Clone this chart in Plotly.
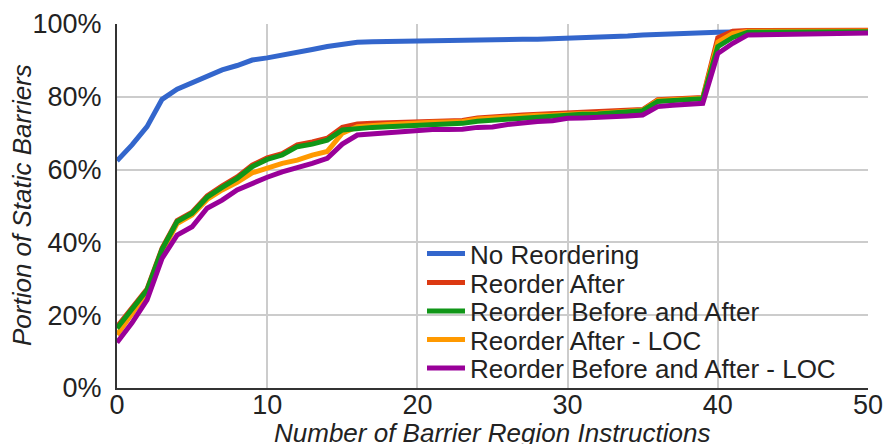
import plotly.graph_objects as go

# Number of barrier region instructions (x axis)
instructions = list(range(0, 51))

# Portion of static barriers (%) for each reordering strategy
no_reordering = [62.4, 66.8, 71.8, 79.3, 82.1, 83.9, 85.5, 87.4, 88.6, 90.1,
                 90.7, 91.4, 92.0, 93.0, 93.8, 94.5, 95.0, 95.1, 95.2, 95.3,
                 95.4, 95.5, 95.5, 95.6, 95.6, 95.7, 95.7, 95.8, 95.8, 95.9,
                 96.0, 96.1, 96.3, 96.5, 96.7, 97.0, 97.2, 97.4, 97.5, 97.6,
                 97.7, 97.8, 97.8, 97.8, 97.9, 97.9, 97.9, 97.9, 98.0, 98.0,
                 98.0]
reorder_after = [16.8, 22.2, 27.2, 38.4, 46.0, 48.3, 52.8, 55.5, 58.0, 61.2,
                 63.2, 64.4, 66.8, 67.6, 68.6, 71.6, 72.5, 72.7, 72.8, 73.0,
                 73.3, 73.4, 73.4, 73.5, 74.2, 74.6, 74.7, 75.0, 75.2, 75.3,
                 75.5, 75.6, 75.7, 75.9, 76.1, 76.5, 79.2, 79.5, 79.7, 79.8,
                 96.2, 98.0, 98.2, 98.2, 98.2, 98.2, 98.2, 98.3, 98.3, 98.3,
                 98.3]
reorder_before_after = [16.4, 21.9, 26.9, 38.1, 45.7, 48.0, 52.4, 55.1, 57.6, 60.8,
                        62.8, 64.0, 66.3, 67.0, 68.1, 70.9, 71.4, 71.6, 71.8, 72.0,
                        72.3, 72.4, 72.5, 72.7, 73.3, 73.6, 73.8, 74.1, 74.4, 74.7,
                        75.1, 75.2, 75.3, 75.5, 75.7, 76.2, 78.7, 79.0, 79.3, 79.5,
                        93.8, 96.3, 97.7, 97.7, 97.8, 97.8, 97.8, 97.9, 97.9, 97.9,
                        97.9]
reorder_after_loc = [14.6, 20.6, 26.2, 37.4, 45.2, 47.5, 51.8, 54.4, 56.5, 59.1,
                     60.4, 61.7, 62.6, 64.0, 65.0, 70.0, 71.8, 72.2, 72.4, 72.6,
                     72.9, 73.0, 73.1, 73.2, 73.9, 74.2, 74.4, 74.6, 74.9, 75.0,
                     75.3, 75.4, 75.5, 75.7, 75.9, 76.3, 79.0, 79.3, 79.5, 79.6,
                     95.0, 97.4, 98.0, 98.0, 98.0, 98.0, 98.1, 98.1, 98.1, 98.1,
                     98.1]
reorder_before_after_loc = [12.5, 17.9, 24.2, 35.6, 42.0, 44.3, 49.4, 51.6, 54.4, 56.3,
                            57.9, 59.4, 60.4, 61.7, 63.1, 67.0, 69.5, 69.8, 70.1, 70.5,
                            70.9, 71.0, 71.0, 71.1, 71.6, 71.7, 72.4, 72.9, 73.2, 73.4,
                            74.1, 74.2, 74.3, 74.5, 74.7, 75.0, 77.3, 77.7, 78.0, 78.2,
                            91.9, 94.7, 97.0, 97.0, 97.1, 97.1, 97.2, 97.3, 97.4, 97.5,
                            97.5]

x_ticks = [0, 10, 20, 30, 40, 50]
y_ticks = [0, 20, 40, 60, 80, 100]

FONT = "Liberation Sans, Arial, sans-serif"
TEXT = "#222222"

# (name, values, color, legend slot) in drawing order
series = [
    ("No Reordering", no_reordering, "#3366CC", 0),
    ("Reorder After", reorder_after, "#DC3912", 1),
    ("Reorder After - LOC", reorder_after_loc, "#FF9900", 3),
    ("Reorder Before and After", reorder_before_after, "#109618", 2),
    ("Reorder Before and After - LOC", reorder_before_after_loc, "#990099", 4),
]

W, H = 886, 444
ML, MR, MT, MB = 117, 18, 24, 56
PW, PH = W - ML - MR, H - MT - MB

legend_ids = ["legend", "legend2", "legend3", "legend4", "legend5"]
row_px = [253.5, 282.5, 311.0, 339.5, 368.0]

fig = go.Figure()
for name, vals, color, slot in series:
    fig.add_trace(go.Scatter(
        x=instructions, y=vals, mode="lines", name=name,
        line=dict(color=color, width=5),
        legend=legend_ids[slot],
    ))

layout_legends = {}
for i, lid in enumerate(legend_ids):
    layout_legends[lid] = dict(
        x=(422 - ML) / PW, xanchor="left",
        y=(H - MB - row_px[i]) / PH, yanchor="middle",
        bgcolor="rgba(0,0,0,0)", borderwidth=0,
        font=dict(family=FONT, size=26, color=TEXT),
        itemwidth=38,
    )

fig.update_layout(
    width=W, height=H,
    margin=dict(l=ML, r=MR, t=MT, b=MB, pad=0, autoexpand=False),
    paper_bgcolor="white", plot_bgcolor="white",
    font=dict(family=FONT, size=26, color=TEXT),
    showlegend=True,
    xaxis=dict(
        range=[0, 50], tickvals=x_ticks, ticktext=[str(v) for v in x_ticks],
        showgrid=True, gridcolor="#CCCCCC", gridwidth=2,
        showline=True, linecolor="#333333", linewidth=2,
        zeroline=False, ticks="", ticklabelstandoff=-8,
        tickfont=dict(family=FONT, size=27, color=TEXT),
        automargin=False, fixedrange=True,
    ),
    yaxis=dict(
        range=[0, 100], tickvals=y_ticks, ticktext=[f"{v}%" for v in y_ticks],
        showgrid=True, gridcolor="#CCCCCC", gridwidth=2,
        showline=True, linecolor="#333333", linewidth=2,
        zeroline=False, ticks="", ticklabelstandoff=8,
        tickfont=dict(family=FONT, size=27, color=TEXT),
        automargin=False, fixedrange=True,
    ),
    annotations=[
        dict(text="Number of Barrier Region Instructions", xref="paper", yref="paper",
             x=(492 - ML) / PW, y=(H - MB - 433) / PH, xanchor="center", yanchor="middle",
             showarrow=False, font=dict(family=FONT, size=26, color=TEXT),
             textangle=0),
        dict(text="Portion of Static Barriers", xref="paper", yref="paper",
             x=(22 - ML) / PW, y=(H - MB - 205) / PH, xanchor="center", yanchor="middle",
             showarrow=False, font=dict(family=FONT, size=26, color=TEXT),
             textangle=-90),
    ],
    **layout_legends,
)

# axis titles are set in italics
for a in fig.layout.annotations:
    a.font.style = "italic"

fig.write_html("out.html")
